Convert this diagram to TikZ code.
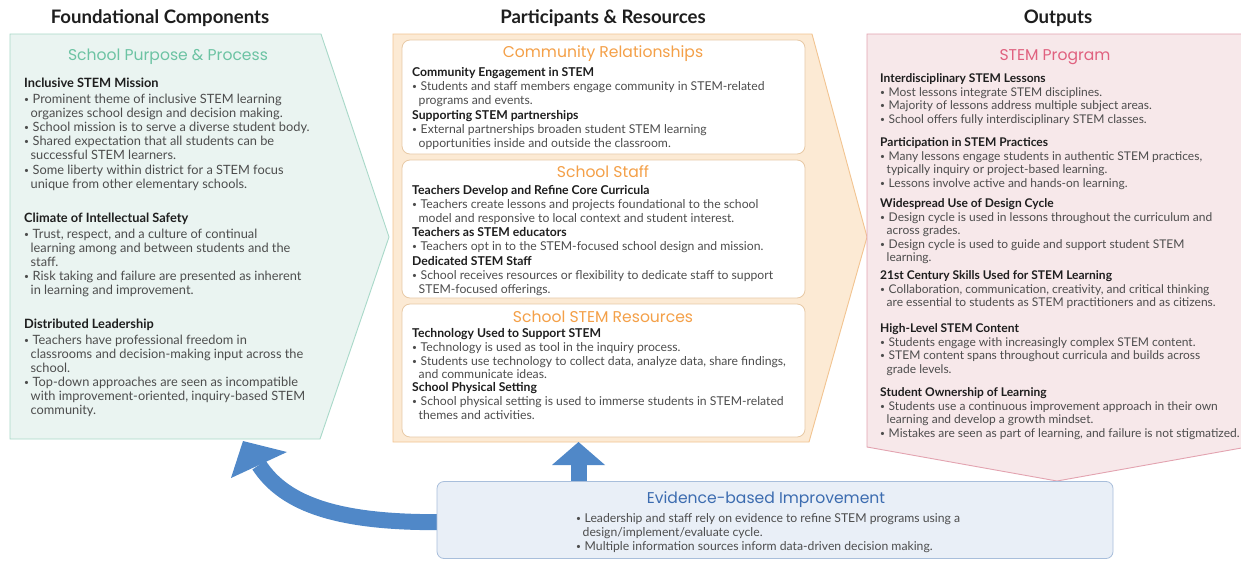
\documentclass[tikz,border=0pt]{standalone}
\usepackage{fontspec}
\setmainfont{Lato}
\newfontfamily\titlefont{Poppins}
\usetikzlibrary{calc}

\definecolor{gfill}{HTML}{EAF4F1}
\definecolor{gline}{HTML}{A9D9C9}
\definecolor{gtitle}{HTML}{6CC3A3}
\definecolor{ofill}{HTML}{FCEAD4}
\definecolor{oline}{HTML}{F2C491}
\definecolor{oinner}{HTML}{E8C9A5}
\definecolor{otitle}{HTML}{F4A048}
\definecolor{pfill}{HTML}{F7E8EA}
\definecolor{pline}{HTML}{E3A3B0}
\definecolor{ptitle}{HTML}{E0617F}
\definecolor{bfill}{HTML}{E9EFF7}
\definecolor{bline}{HTML}{A8BEDB}
\definecolor{btitle}{HTML}{3C6CB0}
\definecolor{arrowblue}{HTML}{5088C8}
\definecolor{bodyc}{HTML}{4D4D4D}
\definecolor{headc}{HTML}{1E1E1E}

% bullet, continuation indent and bold heading inside text blocks
\newcommand\bu{\makebox[8.5pt][l]{\raisebox{0.9pt}{\fontsize{8.5}{8.5}\selectfont\textbullet}}}
\newcommand\ci{\hspace*{6.5pt}}
\newcommand\hd[1]{{\bfseries\color{headc}#1}}

\tikzset{
  coltitle/.style={anchor=base, inner sep=0pt, font=\fontsize{18.6}{20}\selectfont\bfseries, text=headc},
  boxtitle/.style={anchor=base, inner sep=0pt, font=\titlefont\fontsize{15.6}{17}\selectfont},
  txtL/.style={anchor=north west, inner sep=0pt, align=left, text=bodyc, font=\fontsize{12.8}{14.1}\selectfont},
  txtM/.style={anchor=north west, inner sep=0pt, align=left, text=bodyc, font=\fontsize{12.2}{13.3}\selectfont},
  txtR/.style={anchor=north west, inner sep=0pt, align=left, text=bodyc, font=\fontsize{12}{13.5}\selectfont},
  inbox/.style={draw=oinner, fill=white, rounded corners=8pt, line width=0.8pt},
  shaft/.style={draw=arrowblue, line width=16pt},
  head/.style={fill=arrowblue},
}

\begin{document}
\begin{tikzpicture}[x=1pt,y=-1pt]
\useasboundingbox (0,0) rectangle (1241,562);
\fill[white] (0,0) rectangle (1241,562);

% column headings
\node[coltitle] (hF) at (160,23.5) {Foundational Components};
\node[coltitle] (hP) at (603,23.5) {Participants \& Resources};
\node[coltitle] (hO) at (1058,23.5) {Outputs};

% ---------- chevron panels ----------
\draw[fill=gfill, draw=gline, line width=0.9pt]
  (10,34) -- (321,34) -- (389,237) -- (320,439) -- (10,439) -- cycle;
\draw[fill=ofill, draw=oline, line width=0.9pt]
  (393,34) -- (812,34) -- (867,237) -- (809,442) -- (393,442) -- cycle;
\draw[fill=pfill, draw=pline, line width=0.9pt]
  (867,34) -- (1247,34) -- (1247,447) -- (1057,481) -- (867,447) -- cycle;

% inner boxes of the middle panel
\draw[inbox] (402,40) rectangle (805,154);
\draw[inbox] (402,160) rectangle (805,298);
\draw[inbox] (402,304) rectangle (805,437);

% ---------- left panel ----------
\node[boxtitle, text=gtitle] (tSP) at (168,60.5) {School Purpose \& Process};

\node[txtL] (l1) at (24,77.8) {\hd{Inclusive STEM Mission}\\[1.9pt]
\bu Prominent theme of inclusive STEM learning\\
\ci organizes school design and decision making.\\
\bu School mission is to serve a diverse student body.\\
\bu Shared expectation that all students can be\\
\ci successful STEM learners.\\
\bu Some liberty within district for a STEM focus\\
\ci unique from other elementary schools.};

\node[txtL] (l2) at (24,212.3) {\hd{Climate of Intellectual Safety}\\[1.9pt]
\bu Trust, respect, and a culture of continual\\
\ci learning among and between students and the\\
\ci staff.\\
\bu Risk taking and failure are presented as inherent\\
\ci in learning and improvement.};

\node[txtL] (l3) at (24,318.3) {\hd{Distributed Leadership}\\[1.9pt]
\bu Teachers have professional freedom in\\
\ci classrooms and decision-making input across the\\
\ci school.\\
\bu Top-down approaches are seen as incompatible\\
\ci with improvement-oriented, inquiry-based STEM\\
\ci community.};

% ---------- middle panel ----------
\node[boxtitle, text=otitle] (tCR) at (603,57.5) {Community Relationships};
\node[txtM] (m1) at (412,67.6) {\hd{Community Engagement in STEM}\\[0.7pt]
\bu Students and staff members engage community in STEM-related\\
\ci programs and events.};
\node[txtM] (m2) at (412,110.6) {\hd{Supporting STEM partnerships}\\[0.7pt]
\bu External partnerships broaden student STEM learning\\
\ci opportunities inside and outside the classroom.};

\node[boxtitle, text=otitle] (tSS) at (603,177.5) {School Staff};
\node[txtM] (m3) at (412,185.6) {\hd{Teachers Develop and Refine Core Curricula}\\[0.7pt]
\bu Teachers create lessons and projects foundational to the school\\
\ci model and responsive to local context and student interest.};
\node[txtM] (m4) at (412,227.6) {\hd{Teachers as STEM educators}\\[0.7pt]
\bu Teachers opt in to the STEM-focused school design and mission.};
\node[txtM] (m5) at (412,256.6) {\hd{Dedicated STEM Staff}\\[0.7pt]
\bu School receives resources or flexibility to dedicate staff to support\\
\ci STEM-focused offerings.};

\node[boxtitle, text=otitle] (tSR) at (603,322.5) {School STEM Resources};
\node[txtM] (m6) at (412,328.6) {\hd{Technology Used to Support STEM}\\[0.7pt]
\bu Technology is used as tool in the inquiry process.\\
\bu Students use technology to collect data, analyze data, share findings,\\
\ci and communicate ideas.};
\node[txtM] (m7) at (412,382.6) {\hd{School Physical Setting}\\[0.7pt]
\bu School physical setting is used to immerse students in STEM-related\\
\ci themes and activities.};

% ---------- right panel ----------
\node[boxtitle, text=ptitle] (tSTEM) at (1055,60.5) {STEM Program};
\node[txtR] (r1) at (880,73.6) {\hd{Interdisciplinary STEM Lessons}\\
\bu Most lessons integrate STEM disciplines.\\
\bu Majority of lessons address multiple subject areas.\\
\bu School offers fully interdisciplinary STEM classes.};
\node[txtR] (r2) at (880,137.6) {\hd{Participation in STEM Practices}\\
\bu Many lessons engage students in authentic STEM practices,\\
\ci typically inquiry or project-based learning.\\
\bu Lessons involve active and hands-on learning.};
\node[txtR] (r3) at (880,198.6) {\hd{Widespread Use of Design Cycle}\\
\bu Design cycle is used in lessons throughout the curriculum and\\
\ci across grades.\\
\bu Design cycle is used to guide and support student STEM\\
\ci learning.};
\node[txtR] (r4) at (880,270.6) {\hd{21st Century Skills Used for STEM Learning}\\
\bu Collaboration, communication, creativity, and critical thinking\\
\ci are essential to students as STEM practitioners and as citizens.};
\node[txtR] (r5) at (880,323.6) {\hd{High-Level STEM Content}\\
\bu Students engage with increasingly complex STEM content.\\
\bu STEM content spans throughout curricula and builds across\\
\ci grade levels.};
\node[txtR] (r6) at (880,387.6) {\hd{Student Ownership of Learning}\\
\bu Students use a continuous improvement approach in their own\\
\ci learning and develop a growth mindset.\\
\bu Mistakes are seen as part of learning, and failure is not stigmatized.};

% ---------- feedback arrows ----------
\coordinate (upbase) at (578.5,465);
\coordinate (upfoot) at (578.5,490);
\coordinate (cvfoot) at (450,522);
\coordinate (cvbase) at (259,465);
\draw[shaft] (upfoot) -- (upbase);
\fill[head] (552,465) -- (605,465) -- (578.5,442) -- cycle;
\draw[shaft] (cvfoot) .. controls (340,524) and (285,505) .. (cvbase);
\fill[head] (231,478) -- (287,452) -- (243,441) -- cycle;

% ---------- evidence box ----------
\node[draw=bline, fill=bfill, rounded corners=7pt, line width=0.8pt,
      minimum width=676pt, minimum height=77pt, inner sep=0pt]
      (ev) at (775,520) {};
\node[boxtitle, text=btitle] (tEv) at (766,503.5) {Evidence-based Improvement};
\node[txtM, font=\fontsize{12.2}{14}\selectfont] (e1) at (576,513.6) {%
\bu Leadership and staff rely on evidence to refine STEM programs using a\\
\ci design/implement/evaluate cycle.\\
\bu Multiple information sources inform data-driven decision making.};

\end{tikzpicture}
\end{document}
